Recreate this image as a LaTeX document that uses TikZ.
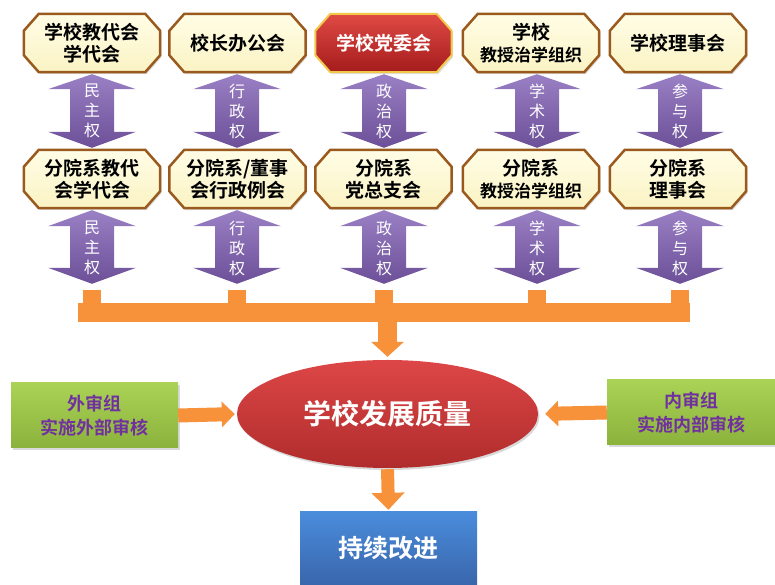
\documentclass[tikz,border=0pt]{standalone}
\usepackage{fontspec}
\setmainfont{Noto Sans CJK SC}[BoldFont={Noto Sans CJK SC Bold}]
\usetikzlibrary{positioning, calc, backgrounds, shapes.geometric, arrows.meta, shadows}

\definecolor{octtop}{HTML}{FFFDE6}
\definecolor{octbottom}{HTML}{FBF3C4}
\definecolor{octline}{HTML}{9A5A1E}
\definecolor{partytop}{HTML}{E04A45}
\definecolor{partybottom}{HTML}{A41C1C}
\definecolor{partyline}{HTML}{F2C84B}
\definecolor{powertop}{HTML}{9A80C4}
\definecolor{powerbottom}{HTML}{6C4F98}
\definecolor{flow}{HTML}{F7913A}
\definecolor{audittop}{HTML}{AAD256}
\definecolor{auditbottom}{HTML}{8BB23B}
\definecolor{audittext}{HTML}{7030A0}
\definecolor{qualitytop}{HTML}{DD4646}
\definecolor{qualitybottom}{HTML}{B02C2C}
\definecolor{improvetop}{HTML}{4A8CDB}
\definecolor{improvebottom}{HTML}{3966AC}

\begin{document}
\begin{tikzpicture}[x=1pt, y=1pt,
    octbox/.style={rectangle, minimum width=136pt, minimum height=58pt, inner sep=0pt, align=center,
        font=\fontsize{19}{22}\selectfont\bfseries},
    octshape/.style={draw=octline, line width=2.5pt, top color=octtop, bottom color=octbottom,
        drop shadow={opacity=0.25, shadow xshift=1.5pt, shadow yshift=-2pt}},
    partyshape/.style={draw=partyline, line width=2pt, top color=partytop, bottom color=partybottom,
        drop shadow={opacity=0.25, shadow xshift=1.5pt, shadow yshift=-2pt}},
    powerfill/.style={top color=powertop, bottom color=powerbottom},
    powerlabel/.style={text=white, align=center, font=\fontsize{16}{20}\selectfont},
    auditbox/.style={rectangle, top color=audittop, bottom color=auditbottom, text=audittext,
        minimum width=167pt, minimum height=65pt, align=center,
        font=\fontsize{18}{24}\selectfont\bfseries,
        drop shadow={opacity=0.3, shadow xshift=1.5pt, shadow yshift=-2pt}},
    bigflow/.style={draw=flow, line width=19pt, -{Triangle[width=32pt, length=15pt]}},
    sideflow/.style={draw=flow, line width=14pt, -{Triangle[width=25pt, length=13pt]}},
    downflow/.style={draw=flow, line width=13pt, -{Triangle[width=32pt, length=17pt]}}
]
    \useasboundingbox (0,0) rectangle (775,585);

    % school level
    \node[octbox] (top1) at (92,542) {学校教代会\\学代会};
    \node[octbox] (top2) at (237.5,542) {校长办公会};
    \node[octbox, text=white] (top3) at (383.5,542) {学校党委会};
    \node[octbox] (top4) at (531,542) {学校\\{\fontsize{17}{22}\selectfont 教授治学组织}};
    \node[octbox] (top5) at (678,542) {学校理事会};

    % department level
    \node[octbox] (mid1) at (92,406) {分院系教代\\会学代会};
    \node[octbox] (mid2) at (237.5,406) {分院系/董事\\会行政例会};
    \node[octbox] (mid3) at (383.5,406) {分院系\\党总支会};
    \node[octbox] (mid4) at (531,406) {分院系\\{\fontsize{17}{22}\selectfont 教授治学组织}};
    \node[octbox] (mid5) at (678,406) {分院系\\理事会};

    % octagon frames behind the texts
    \begin{scope}[on background layer]
        \foreach \b/\look in {top1/octshape, top2/octshape, top3/partyshape, top4/octshape, top5/octshape,
                              mid1/octshape, mid2/octshape, mid3/octshape, mid4/octshape, mid5/octshape} {
            \path[\look] let \p1=(\b.south west), \p2=(\b.north east) in
                (\x1+15,\y1) -- (\x2-15,\y1) -- (\x2,\y1+17) -- (\x2,\y2-17)
                -- (\x2-15,\y2) -- (\x1+15,\y2) -- (\x1,\y2-17) -- (\x1,\y1+17) -- cycle;
        }
    \end{scope}

    % orange collector bar
    \node[fill=flow, minimum width=612pt, minimum height=19pt, inner sep=0pt] (bar) at (384,272.5) {};

    % powers between the levels
    \foreach \k/\cx/\pow in {1/92/民\\主\\权, 2/237/行\\政\\权, 3/384/政\\治\\权, 4/537/学\\术\\权, 5/680/参\\与\\权} {
        \path[powerfill] let \p1=(top\k.south), \p2=(mid\k.north) in
            (\cx,\y1-2) -- (\cx+44,\y1-17) -- (\cx+22,\y1-17) -- (\cx+22,\y2+18) -- (\cx+44,\y2+18)
            -- (\cx,\y2+2) -- (\cx-44,\y2+18) -- (\cx-22,\y2+18) -- (\cx-22,\y1-17) -- (\cx-44,\y1-17) -- cycle;
        \node[powerlabel] (up\k) at (\cx,474) {\pow};

        \path[powerfill] let \p1=(mid\k.south), \p2=(bar.north) in
            (\cx,\y1-2) -- (\cx+44,\y1-18) -- (\cx+22,\y1-18) -- (\cx+22,\y2+35) -- (\cx+44,\y2+35)
            -- (\cx,\y2+19) -- (\cx-44,\y2+35) -- (\cx-22,\y2+35) -- (\cx-22,\y1-18) -- (\cx-44,\y1-18) -- cycle;
        \node[powerlabel] (down\k) at (\cx,337) {\pow};

        % stub into the bar
        \draw[draw=flow, line width=18pt] (\cx,295) -- (\cx,282);
    }

    % quality and review
    \node[ellipse, top color=qualitytop, bottom color=qualitybottom, minimum width=301pt, minimum height=108pt,
        text=white, font=\fontsize{28}{32}\selectfont\bfseries,
        drop shadow={opacity=0.3, shadow xshift=1.5pt, shadow yshift=-2pt}] (quality) at (387.5,171) {学校发展质量};
    \node[auditbox] (outer) at (94.5,169.5) {外审组\\实施外部审核};
    \node[auditbox, minimum width=168pt] (inner) at (691,172.5) {内审组\\实施内部审核};
    \node[rectangle, top color=improvetop, bottom color=improvebottom, minimum width=177pt, minimum height=73pt,
        text=white, font=\fontsize{25}{30}\selectfont\bfseries] (improve) at (388.5,36.5) {持续改进};

    \draw[bigflow, shorten >=3pt] (bar.south -| quality.north) -- (quality.north);
    \draw[sideflow, shorten >=2pt] (outer.east) -- (quality.west);
    \draw[sideflow, shorten >=7pt] (inner.west) -- (quality.east);
    \draw[downflow, shorten <=1pt, shorten >=2pt] (quality.south) -- (improve.north);

\end{tikzpicture}
\end{document}
